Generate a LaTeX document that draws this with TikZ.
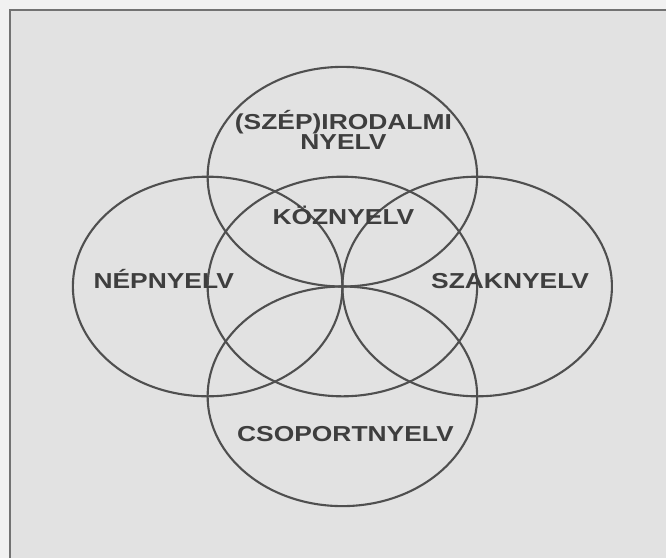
\documentclass[tikz,border=0pt]{standalone}
\usepackage{fontspec}
\setmainfont{Liberation Sans}[FakeStretch=1.22]
\definecolor{papergray}{HTML}{F1F1F1}
\definecolor{boxgray}{HTML}{E2E2E2}
\definecolor{ringgray}{HTML}{4F4F4F}
\definecolor{textgray}{HTML}{3E3E3E}
\tikzset{
  ring/.style={draw=ringgray,line width=1.8pt},
  lbl/.style={text=textgray,font=\bfseries\fontsize{18.5}{15.5}\selectfont,
    align=center,inner sep=0pt,anchor=base}
}
\begin{document}
\begin{tikzpicture}[x=0.03cm,y=-0.03cm]
% paper and frame
\fill[papergray] (0,0) rectangle (667,559);
\fill[boxgray] (10,10) rectangle (667,559);
\draw[ringgray!80,line width=2pt] (10,559) -- (10,10) -- (667,10);
\useasboundingbox (0,0) rectangle (667,559);

% five rings
\draw[ring] (343,177) ellipse [x radius=135,y radius=110];
\draw[ring] (208,287) ellipse [x radius=135,y radius=110];
\draw[ring] (343,287) ellipse [x radius=135,y radius=110];
\draw[ring] (478,287) ellipse [x radius=135,y radius=110];
\draw[ring] (343,397) ellipse [x radius=135,y radius=110];

% labels
\node[lbl] (irodalmi) at (344,150) {(SZÉP)IRODALMI\\NYELV};
\node[lbl] (koznyelv) at (344,225) {KÖZNYELV};
\node[lbl] (nepnyelv) at (164,289) {NÉPNYELV};
\node[lbl] (szaknyelv) at (511,289) {SZAKNYELV};
\node[lbl] (csoport) at (346,442) {CSOPORTNYELV};
\end{tikzpicture}
\end{document}
